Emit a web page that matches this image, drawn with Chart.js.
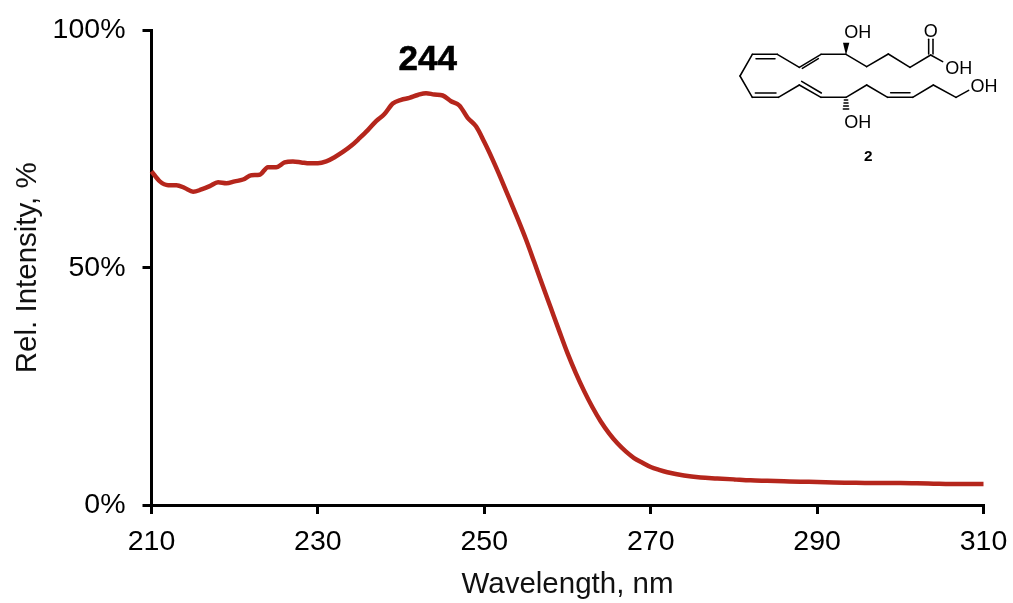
<!DOCTYPE html>
<html>
<head>
<meta charset="utf-8">
<title>UV spectrum</title>
<script src="https://cdn.jsdelivr.net/npm/chart.js@4"></script>
<style>
html,body{margin:0;padding:0;background:#fff;}
#wrap{position:relative;width:1013px;height:603px;overflow:hidden;}
canvas{display:block;}
#mol{position:absolute;left:720px;top:10px;}
#mol line{stroke:#000;stroke-width:4.6;stroke-linecap:round;}
#mol text{font-family:"Liberation Sans",Arial,sans-serif;font-size:54px;fill:#000;text-anchor:middle;}
</style>
</head>
<body>
<div id="wrap">
<canvas id="c" width="1013" height="603"></canvas>
<svg id="mol" width="290" height="170" viewBox="0 0 870 510">
  <line x1="632" y1="135" x2="570" y2="172"/><line x1="570" y1="172" x2="505" y2="132"/>
  <line x1="505" y1="132" x2="440" y2="170"/><line x1="440" y1="170" x2="378" y2="133"/>
  <line x1="626" y1="132" x2="626" y2="88"/><line x1="639" y1="132" x2="639" y2="88"/>
  <line x1="632" y1="135" x2="668" y2="155"/>
  <polygon points="378,136 369,98 388,98" fill="#000"/>
  <line x1="378" y1="133" x2="303" y2="133"/><line x1="303" y1="133" x2="238" y2="172"/>
  <line x1="295" y1="146" x2="247" y2="175"/><line x1="238" y1="172" x2="172" y2="133"/>
  <line x1="172" y1="133" x2="97" y2="133"/><line x1="165" y1="146" x2="108" y2="146"/>
  <line x1="97" y1="133" x2="60" y2="198"/><line x1="60" y1="198" x2="97" y2="262"/>
  <line x1="97" y1="262" x2="175" y2="262"/><line x1="106" y1="249" x2="168" y2="249"/>
  <line x1="175" y1="262" x2="238" y2="225"/><line x1="238" y1="225" x2="303" y2="262"/>
  <line x1="245" y1="214" x2="304" y2="249"/><line x1="303" y1="262" x2="378" y2="262"/>
  <line x1="378" y1="262" x2="440" y2="225"/><line x1="440" y1="225" x2="503" y2="262"/>
  <line x1="503" y1="262" x2="578" y2="262"/><line x1="512" y1="248" x2="570" y2="248"/>
  <line x1="578" y1="262" x2="640" y2="225"/><line x1="640" y1="225" x2="708" y2="262"/>
  <line x1="708" y1="262" x2="746" y2="241"/>
  <line x1="373" y1="270" x2="383" y2="270"/><line x1="372" y1="279" x2="384" y2="279"/>
  <line x1="371" y1="288" x2="385" y2="288"/><line x1="370" y1="297" x2="386" y2="297"/>
  <text x="413" y="84">OH</text>
  <text x="632" y="81">O</text>
  <text x="716" y="191">OH</text>
  <text x="792" y="246">OH</text>
  <text x="413" y="354">OH</text>
  <text x="445" y="452" style="font-weight:bold;font-size:46px">2</text>
</svg>
</div>
<script>
const wavelengths = [210,211,212,213,214,215,216,217,218,219,220,221,222,223,224,225,226,227,228,229,230,231,232,233,234,235,236,237,238,239,240,241,242,243,244,245,246,247,248,249,250,251,252,253,254,255,256,257,258,259,260,261,262,263,264,265,266,267,268,269,270,271,272,274,276,278,280,282,284,286,288,290,292,294,296,298,300,302,304,306,308,310];
const intensity = [70.3,68.2,67.4,67.4,66.8,66.0,66.5,67.2,68.0,67.8,68.2,68.6,69.5,69.6,71.2,71.2,72.2,72.4,72.2,72.0,72.0,72.4,73.3,74.4,75.7,77.3,79.0,80.9,82.4,84.6,85.4,85.8,86.4,86.8,86.5,86.3,85.1,84.2,81.6,79.8,76.5,72.8,68.8,64.6,60.4,56.0,51.2,46.3,41.5,36.7,32.0,27.8,24.0,20.6,17.6,15.1,13.0,11.3,9.9,8.9,8.0,7.4,6.9,6.2,5.8,5.6,5.4,5.2,5.1,5.0,4.9,4.85,4.75,4.7,4.65,4.65,4.65,4.6,4.5,4.4,4.4,4.4];
const xTicks = [210,230,250,270,290,310];
const yTicks = [0,50,100];
const peakLabel = "244";
const peakAt = [243.2, 93.8];
const xTitle = "Wavelength, nm";
const yTitle = "Rel. Intensity, %";

const FONT = '"Liberation Sans", Arial, sans-serif';
const peakPlugin = {
  id: 'peakLabel',
  afterDatasetsDraw(chart) {
    const {ctx, scales} = chart;
    ctx.save();
    ctx.font = 'bold 35px ' + FONT;
    ctx.fillStyle = '#000';
    ctx.strokeStyle = '#000';
    ctx.lineWidth = 0.6;
    ctx.textAlign = 'center';
    ctx.textBaseline = 'middle';
    const px = scales.x.getPixelForValue(peakAt[0]), py = scales.y.getPixelForValue(peakAt[1]);
    ctx.fillText(peakLabel, px, py);
    ctx.strokeText(peakLabel, px, py);
    ctx.restore();
  }
};

new Chart(document.getElementById('c'), {
  type: 'scatter',
  data: {
    datasets: [{
      data: wavelengths.map((w, i) => ({x: w, y: intensity[i]})),
      showLine: true,
      borderColor: '#b5261c',
      borderWidth: 4.5,
      pointRadius: 0,
      cubicInterpolationMode: 'monotone',
      clip: false
    }]
  },
  options: {
    responsive: false,
    animation: false,
    events: [],
    layout: {padding: {left: 0, right: 29.5, top: 30.5, bottom: 0}},
    plugins: {legend: {display: false}, tooltip: {enabled: false}, title: {display: false}},
    scales: {
      x: {
        type: 'linear', min: 210, max: 310,
        afterBuildTicks(s) { s.ticks = xTicks.map(v => ({value: v})); },
        afterFit(s) { s.height = 98; s.paddingLeft = 0; s.paddingRight = 0; },
        border: {color: '#000', width: 3},
        grid: {drawOnChartArea: false, drawTicks: true, tickLength: 9, color: '#000', lineWidth: 3},
        ticks: {color: '#000', font: {family: FONT, size: 28.5}, padding: 11, maxRotation: 0, autoSkip: false},
        title: {display: true, text: xTitle, color: '#111', font: {family: FONT, size: 29.5}, padding: {top: 3, bottom: 0}}
      },
      y: {
        type: 'linear', min: 0, max: 100,
        afterBuildTicks(s) { s.ticks = yTicks.map(v => ({value: v})); },
        afterFit(s) { s.width = 151.5; s.paddingTop = 0; s.paddingBottom = 0; },
        border: {color: '#000', width: 3},
        grid: {drawOnChartArea: false, drawTicks: true, tickLength: 9, color: '#000', lineWidth: 3},
        ticks: {color: '#000', font: {family: FONT, size: 28.5}, padding: 17, callback: v => v + '%'},
        title: {display: true, text: yTitle, color: '#111', font: {family: FONT, size: 29.5}, padding: {top: 10, bottom: 0}}
      }
    }
  },
  plugins: [peakPlugin]
});
</script>
</body>
</html>
